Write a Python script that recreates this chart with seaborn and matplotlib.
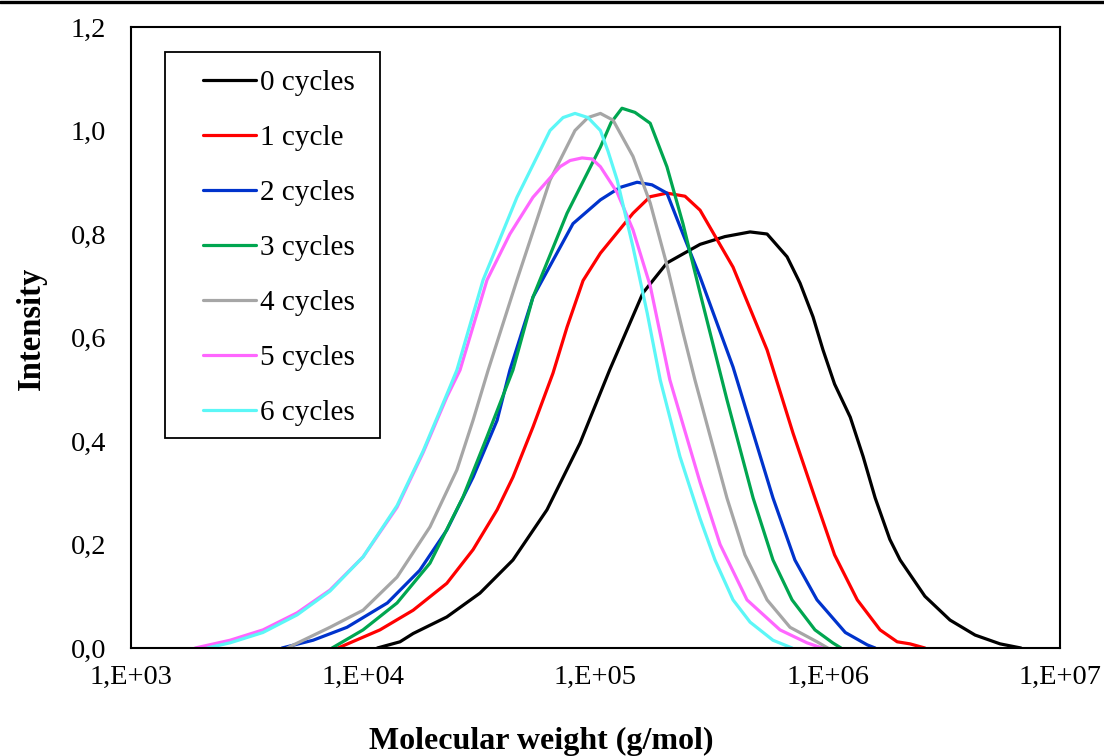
import numpy as np
import pandas as pd
import matplotlib
matplotlib.use("Agg")
import matplotlib.pyplot as plt
from matplotlib.lines import Line2D
from matplotlib.patches import Rectangle
from matplotlib.ticker import FixedLocator, LogLocator, MultipleLocator, NullFormatter
import seaborn as sns

# ---------------- data ----------------
labels = ["0 cycles", "1 cycle", "2 cycles", "3 cycles", "4 cycles", "5 cycles", "6 cycles"]
colors = ["#000000", "#FF0000", "#0033CC", "#00A650", "#A6A6A6", "#FF66FF", "#5CF7F7"]

mw_0 = [11500, 14400, 16400, 22900, 31800, 44100, 61800, 85800, 115000, 160000, 203000,
        282000, 361000, 463000, 548000, 668000, 760000, 864000, 954000, 1070000, 1250000,
        1420000, 1600000, 1850000, 2050000, 2620000, 3360000, 4310000, 5520000, 6790000]
int_0 = [0.0, 0.012, 0.028, 0.06, 0.106, 0.17, 0.267, 0.396, 0.537, 0.686, 0.744,
         0.78, 0.795, 0.804, 0.80, 0.756, 0.705, 0.64, 0.576, 0.51, 0.446,
         0.37, 0.29, 0.21, 0.17, 0.10, 0.054, 0.025, 0.008, 0.0]

mw_1 = [7790, 11800, 16400, 22900, 29700, 37700, 44100, 53800, 65600, 75400, 88400,
        105000, 145000, 171700, 203000, 242900, 282000, 391000, 548000, 709000, 881000,
        1070000, 1340000, 1680000, 1990000, 2260000, 2620000]
int_1 = [0.0, 0.035, 0.073, 0.125, 0.19, 0.267, 0.33, 0.427, 0.531, 0.62, 0.71,
         0.763, 0.84, 0.872, 0.879, 0.873, 0.846, 0.736, 0.576, 0.415, 0.29,
         0.18, 0.093, 0.035, 0.012, 0.008, 0.0]

mw_2 = [4470, 6080, 8510, 12700, 17500, 22900, 29700, 37700, 42800, 53800, 80000,
        105000, 127500, 151000, 175100, 203000, 238000, 282000, 391000, 581000, 722000,
        899000, 1190000, 1480000, 1600000]
int_2 = [0.0, 0.015, 0.04, 0.087, 0.15, 0.228, 0.33, 0.44, 0.537, 0.678, 0.82,
         0.866, 0.89, 0.90, 0.895, 0.879, 0.80, 0.717, 0.543, 0.29, 0.17,
         0.093, 0.03, 0.006, 0.0]

mw_3 = [7340, 9980, 13980, 19380, 26900, 34100, 44100, 53800, 75400, 105000, 116600,
        130000, 147900, 172000, 203000, 238000, 282000, 368000, 477000, 581000, 702000,
        881000, 1050000, 1140000]
int_3 = [0.0, 0.035, 0.087, 0.164, 0.292, 0.408, 0.537, 0.678, 0.84, 0.968, 1.015,
         1.043, 1.035, 1.014, 0.93, 0.82, 0.686, 0.48, 0.29, 0.17, 0.093,
         0.035, 0.01, 0.0]

mw_4 = [4700, 7190, 9980, 13980, 19380, 25300, 29700, 34500, 45900, 63700, 81600,
        92800, 105000, 119000, 145000, 172000, 203000, 238000, 268000, 368000, 440000,
        548000, 688000, 899000, 1000000]
int_4 = [0.0, 0.04, 0.073, 0.137, 0.234, 0.344, 0.44, 0.537, 0.711, 0.904, 1.0,
         1.025, 1.033, 1.02, 0.95, 0.86, 0.74, 0.61, 0.518, 0.29, 0.18,
         0.093, 0.04, 0.012, 0.0]

mw_5 = [1890, 2670, 3700, 5190, 7190, 9980, 13980, 18080, 22900, 26100, 34100,
        42800, 53800, 70300, 77700, 87500, 96600, 105000, 124000, 145000, 172000,
        209000, 282000, 344000, 449000, 623000, 814000, 945000]
int_5 = [0.0, 0.015, 0.035, 0.068, 0.112, 0.176, 0.272, 0.377, 0.485, 0.537, 0.711,
         0.80, 0.871, 0.93, 0.942, 0.947, 0.945, 0.93, 0.88, 0.808, 0.70,
         0.518, 0.32, 0.2, 0.093, 0.035, 0.01, 0.0]

mw_6 = [2130, 2670, 3700, 5190, 7190, 9980, 13980, 18080, 22900, 25300, 32800,
        45900, 63700, 72500, 81600, 92800, 105000, 113200, 124000, 145000, 167000,
        190000, 231000, 282000, 327000, 391000, 463000, 581000, 702000]
int_6 = [0.0, 0.01, 0.03, 0.064, 0.11, 0.176, 0.275, 0.38, 0.49, 0.537, 0.711,
         0.871, 1.0, 1.025, 1.033, 1.025, 1.0, 0.96, 0.904, 0.775, 0.647,
         0.518, 0.37, 0.25, 0.17, 0.093, 0.05, 0.015, 0.0]

mw_series = [mw_0, mw_1, mw_2, mw_3, mw_4, mw_5, mw_6]
int_series = [int_0, int_1, int_2, int_3, int_4, int_5, int_6]

x_ticks = [1e3, 1e4, 1e5, 1e6, 1e7]
x_ticklabels = ["1,E+03", "1,E+04", "1,E+05", "1,E+06", "1,E+07"]
y_ticks = [0.0, 0.2, 0.4, 0.6, 0.8, 1.0, 1.2]
y_ticklabels = ["0,0", "0,2", "0,4", "0,6", "0,8", "1,0", "1,2"]

# ---------------- build long-form frame ----------------
frames = []
for lab, mw, inten in zip(labels, mw_series, int_series):
    frames.append(pd.DataFrame({"mw": mw, "intensity": inten, "series": lab}))
df = pd.concat(frames, ignore_index=True)

# ---------------- style ----------------
sns.set_theme(style="white")
plt.rcParams["font.family"] = ["Liberation Serif", "DejaVu Serif"]
plt.rcParams["axes.linewidth"] = 1.5
for k in ["text.color", "axes.labelcolor", "xtick.color", "ytick.color", "axes.edgecolor"]:
    plt.rcParams[k] = "black"

fig = plt.figure(figsize=(11.04, 7.56), dpi=100)
ax = fig.add_axes([131 / 1104, 1 - 648 / 756, (1060 - 131) / 1104, (648 - 27) / 756])

sns.lineplot(data=df, x="mw", y="intensity", hue="series", hue_order=labels,
             palette=dict(zip(labels, colors)), sort=False, estimator=None,
             linewidth=2.3, ax=ax, legend=False)

ax.set_xscale("log")
ax.set_xlim(1e3, 1e7)
ax.set_ylim(0, 1.2)

ax.xaxis.set_major_locator(FixedLocator(x_ticks))
ax.set_xticklabels(x_ticklabels)
ax.xaxis.set_minor_locator(LogLocator(base=10, subs=np.arange(2, 10)))
ax.xaxis.set_minor_formatter(NullFormatter())
ax.set_yticks(y_ticks)
ax.set_yticklabels(y_ticklabels)
ax.yaxis.set_minor_locator(MultipleLocator(0.04))

ax.tick_params(axis="both", which="both", direction="in", colors="black", width=1.3,
               labelsize=20.5, labelcolor="black")
ax.tick_params(axis="both", which="major", length=7)
ax.tick_params(axis="both", which="minor", length=6)
ax.tick_params(axis="x", which="major", pad=12)
ax.tick_params(axis="y", which="major", pad=18)
ax.tick_params(top=False, right=False, which="both")

for s in ax.spines.values():
    s.set_color("black")
    s.set_linewidth(1.5)

ax.set_xlabel("Molecular weight (g/mol)", fontsize=23, fontweight="bold", color="black")
ax.xaxis.set_label_coords((541 - 131) / 929, -(741 - 648) / 621)
ax.xaxis.label.set_va("center")
ax.set_ylabel("Intensity", fontsize=23.5, fontweight="bold", color="black")
ax.yaxis.set_label_coords(-(131 - 31) / 929, (648 - 328) / 621)
ax.yaxis.label.set_va("center")

# legend
handles = [Line2D([], [], color=c, lw=2.3) for c in colors]
leg = ax.legend(handles, labels, loc="upper left",
                bbox_to_anchor=((203 - 131) / 929, (648 - 70) / 621),
                frameon=False, fontsize=21, handlelength=1.82, handletextpad=0.12,
                labelspacing=0.98, borderpad=0, borderaxespad=0)
for t in leg.get_texts():
    t.set_color("black")
ax.add_patch(Rectangle(((165 - 131) / 929, (648 - 438) / 621), (380 - 165) / 929,
                       (438 - 52) / 621, transform=ax.transAxes, fill=False,
                       edgecolor="black", linewidth=1.3, zorder=5))

# top rule
fig.add_artist(Line2D([0, 1], [1 - 1.7 / 756, 1 - 1.7 / 756], transform=fig.transFigure,
                      color="black", linewidth=2.4))

fig.savefig("out.png", dpi=100)
